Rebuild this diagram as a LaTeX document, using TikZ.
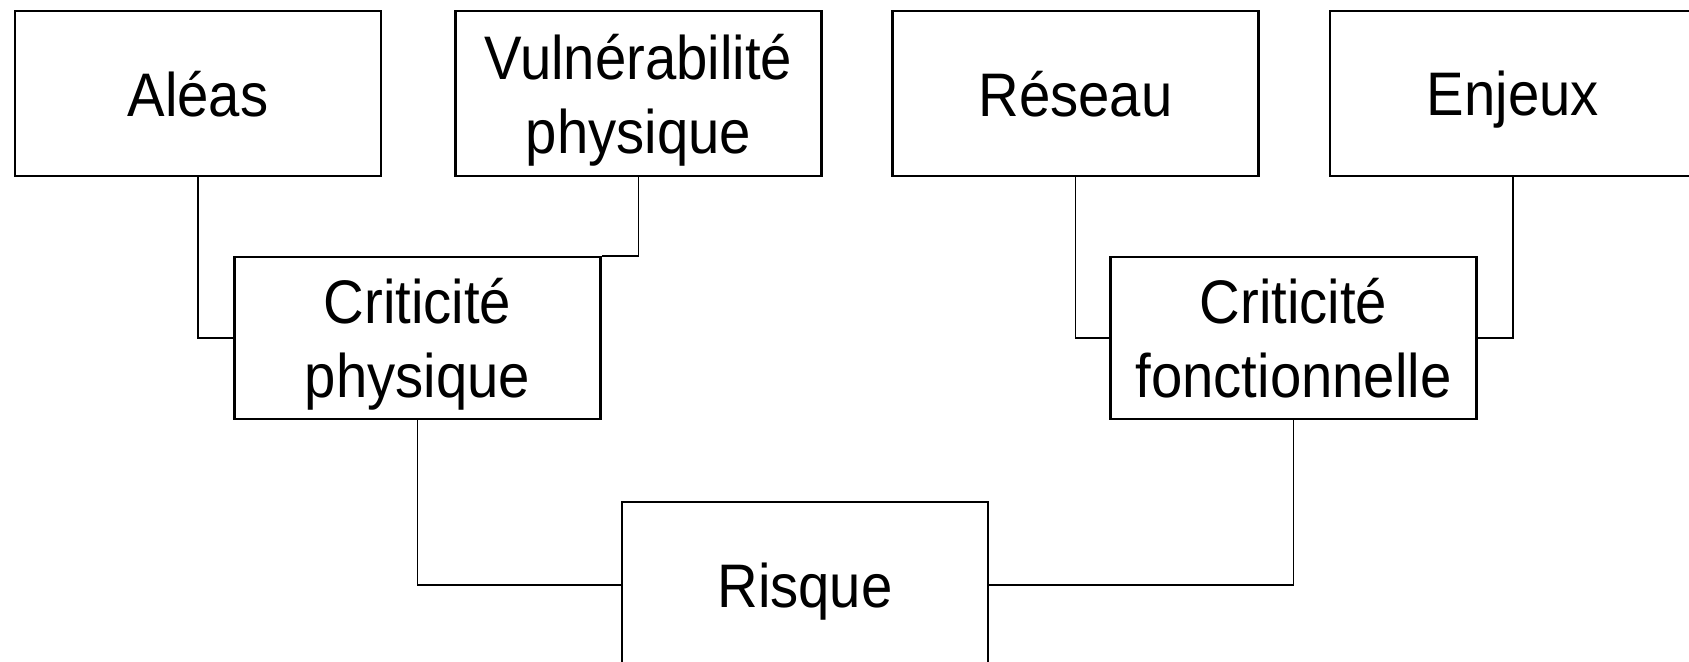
\documentclass[tikz,border=0pt]{standalone}
\usepackage{fontspec}
\setmainfont[FakeStretch=0.915]{Liberation Sans}
\usepackage{tikz}
\usetikzlibrary{
    positioning,
    calc
}

\tikzset{
    boite/.style={
        draw,
        line width=0.6pt,
        minimum width=3.66cm,
        minimum height=1.65cm,
        inner sep=0pt,
        align=center,
        text depth=0pt,
        font=\fontsize{17.5}{21}\selectfont
    },
    lien/.style={
        line width=0.5pt
    }
}

\begin{document}
\begin{tikzpicture}
    \useasboundingbox (0,0) rectangle (16.89,6.62);

    % niveau haut
    \node[boite] (alea) at (1.98,5.685) {Aléas};
    \node[boite] (vulnerabilite) at (6.385,5.685) {Vulnérabilité\\physique};
    \node[boite] (reseau) at (10.755,5.685) {Réseau};
    \node[boite] (enjeux) at (15.13,5.685) {Enjeux};

    % criticités
    \node[boite, minimum height=1.62cm] (critphys) at (4.175,3.24) {Criticité\\physique};
    \node[boite, minimum height=1.62cm] (critfonct) at (12.935,3.24) {Criticité\\fonctionnelle};

    % risque
    \node[boite, minimum height=1.66cm] (risque) at (8.05,0.77) {Risque};

    \draw[lien] (alea.south) |- (critphys.west);
    \draw[lien] (vulnerabilite.south) |- (critphys.north east);
    \draw[lien] (reseau.south) |- (critfonct.west);
    \draw[lien] (enjeux.south) |- (critfonct.east);
    \draw[lien] (critphys.south) |- (risque.west);
    \draw[lien] (critfonct.south) |- (risque.east);
\end{tikzpicture}
\end{document}
